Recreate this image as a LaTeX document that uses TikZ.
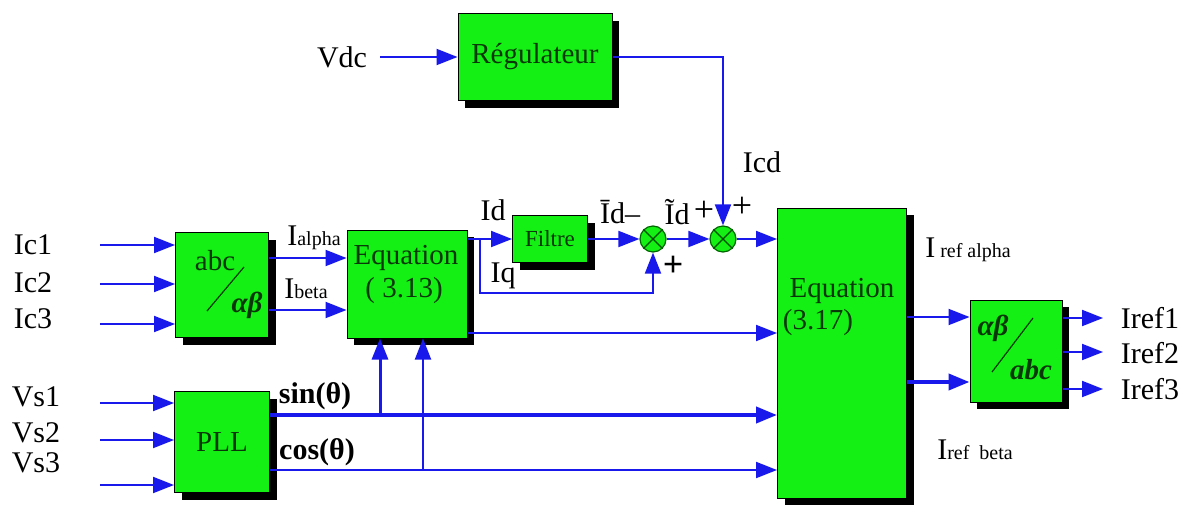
\documentclass[tikz,border=0pt]{standalone}
\usepackage{fontspec}
\setmainfont{Liberation Serif}
\usetikzlibrary{arrows.meta,positioning,shadows,calc}
\definecolor{blockgreen}{RGB}{20,240,20}
\definecolor{wireblue}{RGB}{25,25,235}
\definecolor{inkgreen}{RGB}{10,55,10}
\newcommand{\mainsz}{\fontsize{30}{32}\selectfont}
\newcommand{\subsz}{\fontsize{20}{22}\selectfont}
\newcommand{\boxsz}{\fontsize{29}{31}\selectfont}

\begin{document}
\begin{tikzpicture}[
  x=1pt, y=-1pt,
  block/.style={draw=black, line width=1pt, fill=blockgreen, text=inkgreen,
                font=\boxsz, inner sep=0pt, align=center,
                drop shadow={shadow xshift=7pt, shadow yshift=-7pt, opacity=1, fill=black}},
  sumnode/.style={circle, draw=black!60!green, line width=1.2pt, fill=blockgreen,
                  minimum size=26pt, inner sep=0pt},
  lab/.style={font=\mainsz, inner sep=0pt},
  boldlab/.style={font=\mainsz\bfseries, inner sep=0pt},
  intext/.style={font=\boxsz, text=inkgreen, inner sep=0pt},
  wire/.style={wireblue, line width=2pt},
  arrow/.style={wire, -{Triangle[length=21pt, width=16pt]}},
  thickarrow/.style={arrow, line width=4pt}
]
\useasboundingbox (0,0) rectangle (1191,506);

% Blocks
\node[block, minimum width=154pt, minimum height=87pt] (reg) at (535,57) {Régulateur};
\node[block, minimum width=93pt, minimum height=105pt] (abc) at (222,285) {};
\node[block, minimum width=120pt, minimum height=108pt] (eqa) at (407,284) {};
\node[block, minimum width=75pt, minimum height=47pt, font=\fontsize{23}{25}\selectfont] (filtre) at (550,239) {Filtre};
\node[block, minimum width=129pt, minimum height=290pt] (eqb) at (842,353) {};
\node[block, minimum width=92pt, minimum height=102pt] (ab2abc) at (1016,351) {};
\node[block, minimum width=95pt, minimum height=101pt] (pll) at (222,442) {PLL};

% Texts inside blocks
\node[intext] (abctxt) at (215,261) {abc};
\node[intext, font=\boxsz\bfseries\itshape] (abtxt) at (247,305) {αβ};
\draw[inkgreen, line width=1.2pt] ($(abc.center)+(-15,26)$) -- ($(abc.center)+(22,-18)$);
\node[intext] (eqatxt1) at (406,258) {Equation};
\node[intext] (eqatxt2) at (404,291) {( 3.13)};
\node[intext] (eqbtxt1) at (842,291) {Equation};
\node[intext] (eqbtxt2) at (818,323) {(3.17)};
\node[intext, font=\boxsz\bfseries\itshape] (abtxt2) at (993,328) {αβ};
\node[intext, font=\boxsz\bfseries\itshape] (abctxt2) at (1031,370) {abc};
\draw[inkgreen, line width=1.2pt] ($(ab2abc.center)+(-24,21)$) -- ($(ab2abc.center)+(17,-33)$);

% Summation points
\node[sumnode] (sum1) at (653,239) {};
\node[sumnode] (sum2) at (723,239) {};
\foreach \s in {sum1,sum2}{
  \draw[black!70!green, line width=1.2pt] (\s.north west) -- (\s.south east);
  \draw[black!70!green, line width=1.2pt] (\s.north east) -- (\s.south west);
}

% Input labels
\node[lab] (vdc) at (342,57) {Vdc};
\node[lab] (ic1) at (33,245) {Ic1};
\node[lab] (ic2) at (33,283) {Ic2};
\node[lab] (ic3) at (33,319) {Ic3};
\node[lab] (vs1) at (36,397) {Vs1};
\node[lab] (vs2) at (36,433) {Vs2};
\node[lab] (vs3) at (36,463) {Vs3};

% Signal labels
\node[lab] (ialpha) at (314,238) {I{\subsz alpha}};
\node[lab] (ibeta) at (306,289) {I{\subsz beta}};
\node[lab] (idl) at (493,210) {Id};
\node[lab] (iql) at (503,276) {Iq};
\node[lab] (idbar) at (620,212) {Īd–};
\node[lab] (idtil) at (677,212) {Ĩd};
\node[lab, font=\fontsize{36}{38}\selectfont] (plus3) at (704,211) {+};
\node[lab, font=\fontsize{36}{38}\selectfont] (plus2) at (742,207) {+};
\node[boldlab, font=\fontsize{36}{38}\selectfont\bfseries] (plus1) at (673,266) {+};
\node[lab] (icd) at (762,162) {Icd};
\node[boldlab] (sinl) at (315,396) {sin(θ)};
\node[boldlab] (cosl) at (317,452) {cos(θ)};
\node[lab] (irefa) at (968,250) {I{\subsz\ ref alpha}};
\node[lab] (irefb) at (975,450) {I{\subsz ref\ \ beta}};
\node[lab] (iref1) at (1150,318) {Iref1};
\node[lab] (iref2) at (1150,353) {Iref2};
\node[lab] (iref3) at (1150,389) {Iref3};

% Wire end points
\coordinate (vdcin) at (380,57);
\coordinate (ic1in) at (100,245);
\coordinate (ic2in) at (100,284);
\coordinate (ic3in) at (100,324);
\coordinate (vs1in) at (100,403);
\coordinate (vs2in) at (100,440);
\coordinate (vs3in) at (100,485);
\coordinate (iqsplit) at (480,239);
\coordinate (iqcorner) at (653,293);
\coordinate (sinjoin) at (380,415);
\coordinate (cosjoin) at (423,470);
\coordinate (out1) at (1103,318);
\coordinate (out2) at (1103,352);
\coordinate (out3) at (1103,389);

% Inputs
\draw[arrow] (vdcin) -- (reg.west);
\draw[arrow] (ic1in) -- (ic1in -| abc.west);
\draw[arrow] (ic2in) -- (ic2in -| abc.west);
\draw[arrow] (ic3in) -- (ic3in -| abc.west);
\draw[arrow] (vs1in) -- (vs1in -| pll.west);
\draw[arrow] (vs2in) -- (vs2in -| pll.west);
\draw[arrow] (vs3in) -- (vs3in -| pll.west);

% abc -> Equation (3.13)
\draw[arrow] (abc.east |- 0,258) -- (eqa.west |- 0,258);
\draw[arrow] (abc.east |- 0,310) -- (eqa.west |- 0,310);

% Id / Iq path
\draw[arrow] (filtre.west -| eqa.east) -- (filtre.west);
\draw[arrow] (iqsplit) |- (iqcorner) -- (sum1.south);
\draw[arrow] (filtre.east) -- (sum1.west);
\draw[arrow] (sum1.east) -- (sum2.west);
\draw[arrow] (sum2.east) -- (sum2.east -| eqb.west);
\draw[arrow] (reg.east) -| (sum2.north);

% Into Equation (3.17)
\draw[arrow] (eqa.east |- 0,333) -- (eqb.west |- 0,333);
\draw[thickarrow] (pll.east |- sinjoin) -- (eqb.west |- sinjoin);
\draw[arrow] (pll.east |- cosjoin) -- (eqb.west |- cosjoin);
\draw[arrow, line width=3pt] (sinjoin) -- (sinjoin |- eqa.south);
\draw[arrow] (cosjoin) -- (cosjoin |- eqa.south);

% Equation (3.17) -> output transform
\draw[arrow] (eqb.east |- 0,317) -- (ab2abc.west |- 0,317);
\draw[thickarrow] (eqb.east |- 0,382) -- (ab2abc.west |- 0,382);
\draw[arrow] (out1 -| ab2abc.east) -- (out1);
\draw[arrow] (out2 -| ab2abc.east) -- (out2);
\draw[arrow] (out3 -| ab2abc.east) -- (out3);

\end{tikzpicture}
\end{document}
